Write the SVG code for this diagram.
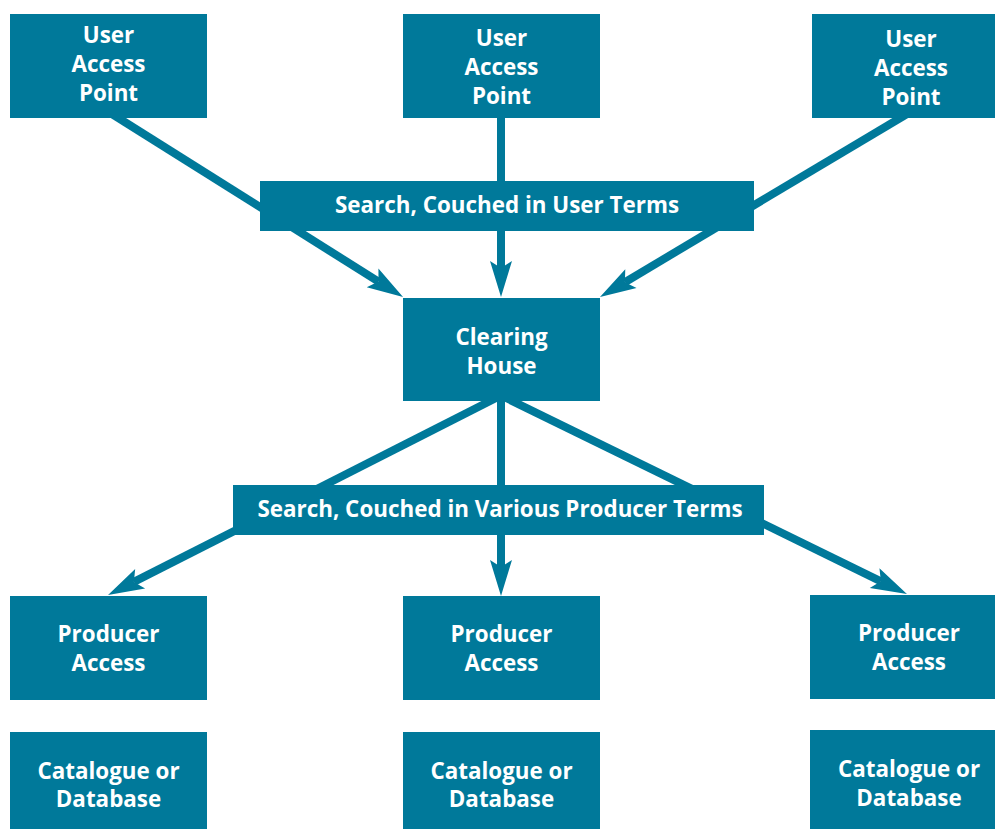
<svg xmlns="http://www.w3.org/2000/svg" width="995" height="829" viewBox="0 0 995 829">
<style>
.box{fill:#00799A}
.t{font-family:"Open Sans","Liberation Sans",sans-serif;font-weight:700;font-size:22.4px;fill:#FFFFFF;text-anchor:middle}
.c{stroke:#00799A;stroke-width:8;fill:none}
</style>
<defs>
<marker id="ah" markerUnits="userSpaceOnUse" markerWidth="40" markerHeight="30" refX="7" refY="0" orient="auto" overflow="visible">
<path d="M36,0 L0,-11 L7,0 L0,11 Z" fill="#00799A"/>
</marker>
</defs>
<rect width="995" height="829" fill="#FFFFFF"/>
<g id="connectors">
<line class="c" x1="112" y1="114" x2="378.5" y2="281.6" marker-end="url(#ah)"/>
<line class="c" x1="501" y1="110" x2="501" y2="268" marker-end="url(#ah)"/>
<line class="c" x1="907" y1="114" x2="624.9" y2="282.2" marker-end="url(#ah)"/>
<line class="c" x1="500" y1="396" x2="133.9" y2="581.9" marker-end="url(#ah)"/>
<line class="c" x1="501" y1="396" x2="501" y2="567" marker-end="url(#ah)"/>
<line class="c" x1="502" y1="396" x2="880.9" y2="581.3" marker-end="url(#ah)"/>
</g>
<g id="uap1"><rect class="box" x="10" y="14" width="197" height="104"/><text class="t" x="108.5" y="43">User</text><text class="t" x="108.5" y="72">Access</text><text class="t" x="108.5" y="101">Point</text></g>
<g id="uap2"><rect class="box" x="403" y="14" width="197" height="104"/><text class="t" x="501.5" y="46">User</text><text class="t" x="501.5" y="75">Access</text><text class="t" x="501.5" y="104">Point</text></g>
<g id="uap3"><rect class="box" x="812" y="14" width="198" height="104"/><text class="t" x="911" y="47">User</text><text class="t" x="911" y="76">Access</text><text class="t" x="911" y="105">Point</text></g>
<g id="search-user"><rect class="box" x="260" y="181" width="494" height="50"/><text class="t" x="507" y="213">Search, Couched in User Terms</text></g>
<g id="clearing-house"><rect class="box" x="403" y="298" width="197" height="103"/><text class="t" x="501.5" y="345">Clearing</text><text class="t" x="501.5" y="374">House</text></g>
<g id="search-producer"><rect class="box" x="233" y="485" width="531" height="50"/><text class="t" x="500" y="517">Search, Couched in Various Producer Terms</text></g>
<g id="pa1"><rect class="box" x="10" y="596" width="197" height="104"/><text class="t" x="108.5" y="642">Producer</text><text class="t" x="108.5" y="671">Access</text></g>
<g id="pa2"><rect class="box" x="403" y="596" width="197" height="104"/><text class="t" x="501.5" y="642">Producer</text><text class="t" x="501.5" y="671">Access</text></g>
<g id="pa3"><rect class="box" x="810" y="595" width="200" height="104"/><text class="t" x="909" y="641">Producer</text><text class="t" x="909" y="670">Access</text></g>
<g id="cat1"><rect class="box" x="10" y="732" width="197" height="97"/><text class="t" x="108.5" y="779">Catalogue or</text><text class="t" x="108.5" y="807">Database</text></g>
<g id="cat2"><rect class="box" x="403" y="732" width="197" height="97"/><text class="t" x="501.5" y="779">Catalogue or</text><text class="t" x="501.5" y="807">Database</text></g>
<g id="cat3"><rect class="box" x="810" y="730" width="200" height="99"/><text class="t" x="909" y="777">Catalogue or</text><text class="t" x="909" y="806">Database</text></g>
</svg>
